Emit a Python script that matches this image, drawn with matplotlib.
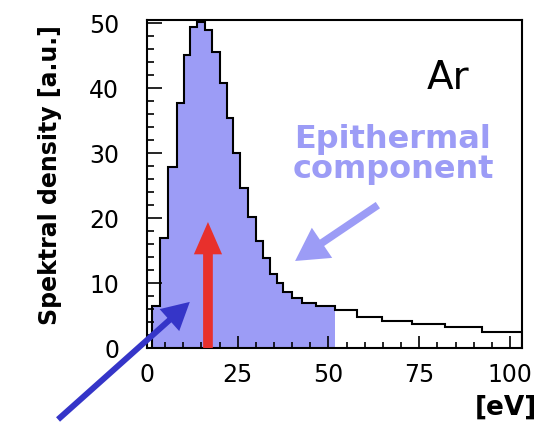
import numpy as np
import matplotlib.pyplot as plt
from matplotlib.ticker import MultipleLocator

# histogram (bin edges in eV, density in a.u.)
edges = [1.4, 3.6, 5.8, 8.3, 10.2, 11.8, 13.8, 16.0, 17.9, 20.1, 22.0, 23.7,
         25.6, 27.8, 30.0, 32.0, 33.9, 35.8, 37.5, 39.9, 42.7, 46.6, 51.8,
         57.9, 64.7, 73.0, 82.1, 92.3, 103.3]
density = [6.5, 16.9, 27.9, 37.7, 45.1, 49.4, 50.2, 48.9, 45.6, 40.8, 35.4,
           30.0, 24.7, 20.2, 16.4, 13.9, 11.4, 10.0, 8.7, 7.7, 7.0, 6.5,
           5.9, 4.8, 4.1, 3.7, 3.3, 2.5]
fill_cut = 51.8          # shaded part ends here
mean_energy = 16.8       # red arrow position
mean_height = 19.4

xticks = [0, 25, 50, 75, 100]
yticks = [0, 10, 20, 30, 40, 50]

fill_col = '#9c9cf6'
fig = plt.figure(figsize=(5.54, 4.24), dpi=100)
ax = fig.add_axes([0.2653, 0.1792, 0.6769, 0.7736])

edges = np.array(edges)
density = np.array(density)
n_fill = int(np.sum(edges[1:] <= fill_cut + 1e-9))
ax.stairs(density[:n_fill], edges[:n_fill + 1], fill=True, color=fill_col, lw=0)
ax.stairs(density, edges, color='black', lw=1.5)

ax.set_xlim(0, 103.3)
ax.set_ylim(0, 50.5)
ax.set_xticks(xticks)
ax.set_yticks(yticks)
ax.xaxis.set_minor_locator(MultipleLocator(5))
ax.yaxis.set_minor_locator(MultipleLocator(2))
ax.tick_params(which='both', direction='in', top=False, right=False, width=1.2)
ax.tick_params(axis='x', which='major', length=9, pad=11, labelsize=17)
ax.tick_params(axis='x', which='minor', length=4)
ax.tick_params(axis='y', which='major', length=11, pad=20, labelsize=17)
ax.tick_params(axis='y', which='minor', length=5)
for s in ax.spines.values():
    s.set_linewidth(1.5)

ax.set_ylabel('Spektral density [a.u.]', fontsize=17, fontweight='bold')
ax.yaxis.set_label_coords(-0.227, 0.527)
ax.set_xlabel('[eV]', fontsize=19, fontweight='bold', ha='right')
ax.xaxis.set_label_coords(1.04, -0.143)

ax.text(0.803, 0.823, 'Ar', transform=ax.transAxes, fontsize=28,
        ha='center', va='center')
ax.text(0.656, 0.637, 'Epithermal', transform=ax.transAxes, fontsize=23,
        fontweight='bold', color=fill_col, ha='center', va='center')
ax.text(0.656, 0.543, 'component', transform=ax.transAxes, fontsize=23,
        fontweight='bold', color=fill_col, ha='center', va='center')

# arrows (head outline is stroked too, so heads are set a bit smaller)
ax.annotate('', xy=(mean_energy, mean_height), xytext=(mean_energy, 0),
            arrowprops=dict(arrowstyle='-|>,head_length=0.55,head_width=0.24',
                            color='#e8302c', lw=7, mutation_scale=20,
                            shrinkA=0, shrinkB=0, capstyle='butt',
                            joinstyle='miter'))
ax.annotate('', xy=(11.8, 7.1), xytext=(-24.5, -11.0),
            arrowprops=dict(arrowstyle='-|>,head_length=0.65,head_width=0.35',
                            color='#3535c8', lw=4.3, mutation_scale=20,
                            shrinkA=0, shrinkB=0, capstyle='butt',
                            joinstyle='miter'),
            annotation_clip=False)
ax.annotate('', xy=(40.8, 13.4), xytext=(63.6, 22.0),
            arrowprops=dict(arrowstyle='-|>,head_length=0.75,head_width=0.42',
                            color=fill_col, lw=5.5, mutation_scale=20,
                            shrinkA=0, shrinkB=0, capstyle='butt',
                            joinstyle='miter'))

fig.savefig('out.png', dpi=100)
